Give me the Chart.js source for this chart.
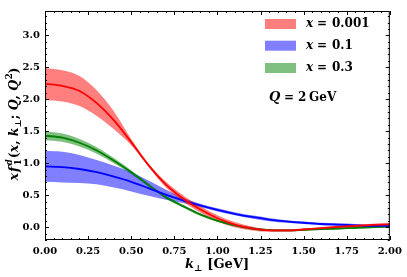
<!DOCTYPE html>
<html>
<head>
<meta charset="utf-8">
<script src="https://cdn.jsdelivr.net/npm/chart.js@4.4.0/dist/chart.umd.min.js"></script>
<style>
  html, body { margin: 0; padding: 0; background: #fff; }
  .chart { width: 407px; height: 277px; }
</style>
</head>
<body>
<div class="chart"><canvas id="tmd"></canvas></div>
<script>
// k_perp grid [GeV]
const kPerp = [0.0,0.1,0.2,0.3,0.4,0.5,0.6,0.7,0.8,0.9,1.0,1.1,1.2,1.3,1.4,1.5,1.6,1.7,1.8,1.9,2.0];

// x = 0.001
const redMid = [2.24,2.21,2.13,1.94,1.67,1.33,0.97,0.67,0.45,0.28,0.14,0.04,-0.02,-0.05,-0.05,-0.035,-0.015,0.005,0.02,0.035,0.045];
const redHi  = [2.49,2.455,2.365,2.14,1.81,1.38,0.995,0.715,0.50,0.33,0.185,0.08,0.01,-0.03,-0.03,-0.02,0.00,0.02,0.04,0.055,0.065];
const redLo  = [1.99,1.965,1.895,1.74,1.53,1.28,0.945,0.625,0.40,0.23,0.095,0.00,-0.05,-0.07,-0.07,-0.05,-0.03,-0.01,0.00,0.015,0.025];

// x = 0.1
const blueMid = [0.95,0.94,0.91,0.86,0.79,0.71,0.61,0.51,0.42,0.34,0.27,0.21,0.16,0.12,0.09,0.07,0.05,0.04,0.03,0.02,0.02];
const blueHi  = [1.19,1.18,1.13,1.05,0.96,0.86,0.73,0.59,0.46,0.365,0.295,0.235,0.185,0.145,0.11,0.09,0.07,0.06,0.05,0.04,0.04];
const blueLo  = [0.71,0.70,0.69,0.67,0.62,0.56,0.49,0.43,0.38,0.315,0.245,0.185,0.135,0.095,0.07,0.05,0.03,0.02,0.01,0.00,0.00];

// x = 0.3
const greenMid = [1.43,1.40,1.32,1.20,1.04,0.86,0.66,0.47,0.33,0.20,0.10,0.03,-0.02,-0.045,-0.05,-0.04,-0.03,-0.02,-0.01,0.00,0.01];
const greenHi  = [1.50,1.465,1.38,1.25,1.08,0.89,0.685,0.49,0.35,0.22,0.115,0.045,-0.005,-0.03,-0.035,-0.025,-0.015,-0.005,0.005,0.015,0.025];
const greenLo  = [1.36,1.335,1.26,1.15,1.00,0.83,0.635,0.45,0.31,0.18,0.085,0.015,-0.035,-0.06,-0.065,-0.055,-0.045,-0.035,-0.025,-0.015,-0.005];

const xValues = ['0.001', '0.1', '0.3'];
const xTicks = [0,0.25,0.5,0.75,1.0,1.25,1.5,1.75,2.0];
const yTicks = [0,0.5,1.0,1.5,2.0,2.5,3.0];

const SERIF = '"DejaVu Serif", serif';

function pts(arr) { return arr.map((v, i) => ({x: kPerp[i], y: v})); }

function band(lo, hi, color, name) {
  return [
    {label: name + ' lo', data: pts(lo), borderWidth: 0, pointRadius: 0, fill: false, order: 2, cubicInterpolationMode: 'monotone'},
    {label: name, data: pts(hi), borderWidth: 0, pointRadius: 0, fill: '-1', backgroundColor: color, order: 2, cubicInterpolationMode: 'monotone', band: true}
  ];
}
function line(mid, color, name) {
  return {label: name + ' mid', data: pts(mid), borderColor: color, borderWidth: 1.8, pointRadius: 0, fill: false, order: 1, cubicInterpolationMode: 'monotone'};
}

const bandColors = ['rgba(255,0,0,0.5)', 'rgba(0,0,255,0.5)', 'rgba(0,128,0,0.5)'];

const datasets = [].concat(
  band(redLo, redHi, bandColors[0], xValues[0]),
  band(blueLo, blueHi, bandColors[1], xValues[1]),
  band(greenLo, greenHi, bandColors[2], xValues[2]),
  [line(redMid, '#ff0000', 'r'), line(blueMid, '#0000ff', 'b'), line(greenMid, '#008000', 'g')]
);

// draw text made of pieces (italic / sub / sup)
function richWidth(ctx, parts, size) {
  let x = 0, start = 0;
  parts.forEach(p => {
    const fs = (p.sub || p.sup) ? size * 0.68 : size;
    ctx.font = (p.it ? 'italic ' : '') + 'bold ' + fs + 'px ' + SERIF;
    const w = ctx.measureText(p.t).width + (p.gap || 0);
    const px = p.stack ? start : x;
    p._x = px; p._font = ctx.font;
    p._dy = p.sub ? size * 0.32 : (p.sup ? -size * 0.42 : 0);
    if (p.stack) x = Math.max(x, px + w); else { start = px; x = px + w; }
  });
  return x;
}
function drawRich(ctx, parts, cx, cy, size) {
  const w = richWidth(ctx, parts, size);
  ctx.textBaseline = 'middle';
  ctx.textAlign = 'left';
  parts.forEach(p => {
    ctx.font = p._font;
    ctx.fillText(p.t, cx - w / 2 + p._x, cy + p._dy);
  });
}

const decorations = {
  id: 'decorations',
  afterDraw(chart) {
    const {ctx, chartArea: a, scales: {x, y}} = chart;
    ctx.save();
    ctx.strokeStyle = '#000';
    ctx.fillStyle = '#000';
    ctx.lineWidth = 1;
    ctx.strokeRect(a.left + 0.5, a.top + 0.5, a.right - a.left - 1, a.bottom - a.top - 1);

    // inward ticks on all four sides
    ctx.beginPath();
    for (let i = 0; i <= 40; i++) {
      const v = i * 0.05;
      const len = (i % 5 === 0) ? 4 : 2;
      const px = Math.round(x.getPixelForValue(v)) + 0.5;
      ctx.moveTo(px, a.bottom); ctx.lineTo(px, a.bottom - len);
      ctx.moveTo(px, a.top); ctx.lineTo(px, a.top + len);
    }
    for (let i = -2; i <= 33; i++) {
      const v = i * 0.1;
      const len = (i % 5 === 0) ? 4 : 2;
      const py = Math.round(y.getPixelForValue(v)) + 0.5;
      ctx.moveTo(a.left, py); ctx.lineTo(a.left + len, py);
      ctx.moveTo(a.right, py); ctx.lineTo(a.right - len, py);
    }
    ctx.stroke();

    // legend
    const bands = chart.data.datasets.filter(d => d.band);
    const rows = [24, 45.7, 68];
    bands.forEach((d, i) => {
      const yc = rows[i];
      ctx.fillStyle = d.backgroundColor;
      ctx.fillRect(265, yc - 5, 31, 10);
      ctx.fillStyle = '#000';
      ctx.textBaseline = 'middle';
      ctx.textAlign = 'left';
      ctx.font = 'italic bold 12px ' + SERIF;
      ctx.fillText('x', 306, yc);
      ctx.font = 'bold 12px ' + SERIF;
      ctx.fillText('=', 317, yc);
      ctx.fillText(d.label, 332, yc);
    });
    ctx.font = 'italic bold 13px ' + SERIF;
    ctx.fillText('Q', 269, 98);
    ctx.font = 'bold 12px ' + SERIF;
    ctx.fillText('=', 284, 98);
    ctx.fillText('2', 298, 98);
    ctx.fillText('GeV', 309, 98);

    // axis titles
    drawRich(ctx, [
      {t: 'k', it: true},
      {t: '\u22A5', sub: true, gap: 5},
      {t: '[GeV]'}
    ], 217, 265, 13);

    ctx.translate(15, 124);
    ctx.rotate(-Math.PI / 2);
    drawRich(ctx, [
      {t: 'x', it: true, gap: 1},
      {t: 'f', it: true, gap: 1.5},
      {t: '1', sub: true, gap: 1},
      {t: 'd', sup: true, it: true, stack: true, gap: 1},
      {t: '('},
      {t: 'x', it: true},
      {t: ', '},
      {t: 'k', it: true},
      {t: '\u22A5', sub: true},
      {t: '; '},
      {t: 'Q', it: true},
      {t: ', '},
      {t: 'Q', it: true, gap: 0.5},
      {t: '2', sup: true},
      {t: ')'}
    ], 0, 0, 12.5);
    ctx.restore();
  }
};

new Chart(document.getElementById('tmd'), {
  type: 'line',
  data: {datasets: datasets},
  options: {
    animation: false,
    responsive: true,
    maintainAspectRatio: false,
    layout: {padding: {top: 5, right: 16, left: 0, bottom: 0}},
    plugins: {legend: {display: false}, tooltip: {enabled: false}},
    scales: {
      x: {
        type: 'linear', min: 0, max: 2,
        grid: {display: false, drawTicks: false},
        border: {display: false},
        afterBuildTicks: s => { s.ticks = xTicks.map(v => ({value: v})); },
        afterFit: s => { s.height = 37; },
        ticks: {color: '#000', padding: 5, maxRotation: 0, autoSkip: false,
                font: {family: SERIF, size: 10, weight: 'bold'},
                callback: v => Number(v).toFixed(2)}
      },
      y: {
        type: 'linear', min: -0.2, max: 3.38,
        grid: {display: false, drawTicks: false},
        border: {display: false},
        afterBuildTicks: s => { s.ticks = yTicks.map(v => ({value: v})); },
        afterFit: s => { s.width = 45; },
        ticks: {color: '#000', padding: 5,
                font: {family: SERIF, size: 10, weight: 'bold'},
                callback: v => Number(v).toFixed(1)}
      }
    }
  },
  plugins: [decorations]
});
</script>
</body>
</html>
